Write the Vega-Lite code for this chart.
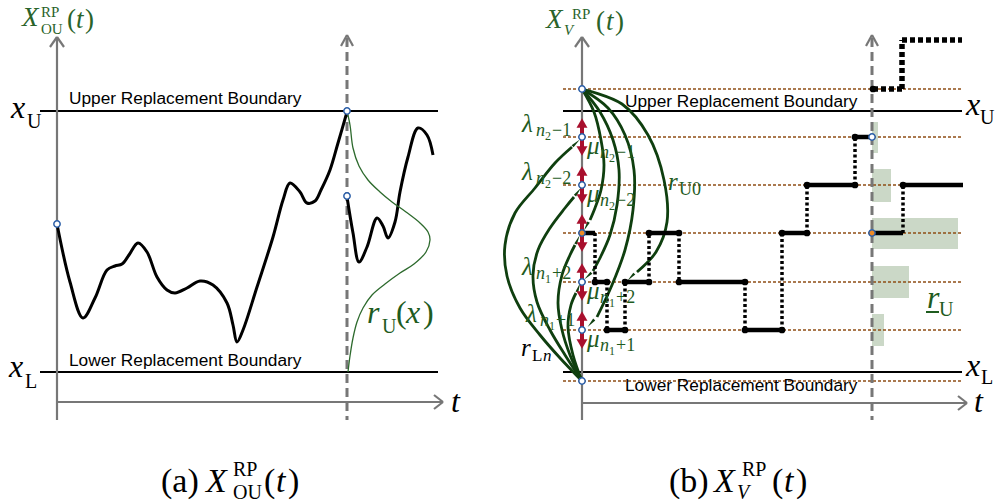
{
"$schema":"https://vega.github.io/schema/vega-lite/v6.json",
"width":998,"height":503,
"autosize":{"type":"fit","contains":"padding"},
"padding":0,
"background":"#ffffff",
"config":{"view":{"stroke":null}},
"encoding":{
 "x":{"field":"x","type":"quantitative","scale":{"domain":[0,998],"nice":false,"zero":false},"axis":null},
 "y":{"field":"y","type":"quantitative","scale":{"domain":[0,503],"nice":false,"zero":false,"reverse":true},"axis":null}
},
"layer":[
{"data":{"values":[{"x":872,"x2":878,"y":122,"y2":153},{"x":872,"x2":891,"y":169,"y2":202},{"x":872,"x2":958,"y":218,"y2":249},{"x":872,"x2":909,"y":266,"y2":298},{"x":872,"x2":884,"y":314,"y2":346}]},
 "mark":{"type":"rect","color":"#cbd8c7"},
 "encoding":{"x2":{"field":"x2"},"y2":{"field":"y2"}}},
{"data":{"values":[{"x":563,"x2":962,"y":89},{"x":563,"x2":962,"y":137},{"x":563,"x2":962,"y":185},{"x":563,"x2":962,"y":233},{"x":563,"x2":962,"y":282},{"x":563,"x2":962,"y":330},{"x":563,"x2":962,"y":381}]},
 "mark":{"type":"rule","color":"#8f4e16","strokeWidth":1.5,"strokeDash":[3,2]},
 "encoding":{"x2":{"field":"x2"}}},
{"data":{"values":[{"x":40,"x2":438,"y":111},{"x":40,"x2":438,"y":372},{"x":563,"x2":962,"y":111},{"x":563,"x2":962,"y":372}]},
 "mark":{"type":"rule","color":"#000000","strokeWidth":2},
 "encoding":{"x2":{"field":"x2"}}},
{"data":{"values":[
 {"x":57,"y":420,"x2":57,"y2":37},{"x":57,"y":402,"x2":443,"y2":402},
 {"x":50,"y":47,"x2":57,"y2":37},{"x":64,"y":47,"x2":57,"y2":37},
 {"x":434,"y":395,"x2":443,"y2":402},{"x":434,"y":409,"x2":443,"y2":402},
 {"x":582,"y":420,"x2":582,"y2":37},{"x":582,"y":403,"x2":967,"y2":403},
 {"x":575,"y":47,"x2":582,"y2":37},{"x":589,"y":47,"x2":582,"y2":37},
 {"x":958,"y":396,"x2":967,"y2":403},{"x":958,"y":410,"x2":967,"y2":403},
 {"x":341,"y":46,"x2":347,"y2":35},{"x":353,"y":46,"x2":347,"y2":35},
 {"x":866,"y":46,"x2":872,"y2":35},{"x":878,"y":46,"x2":872,"y2":35}]},
 "mark":{"type":"rule","color":"#777777","strokeWidth":2.2},
 "encoding":{"x2":{"field":"x2"},"y2":{"field":"y2"}}},
{"data":{"values":[{"x":347,"y":38,"y2":420},{"x":872,"y":38,"y2":420}]},
 "mark":{"type":"rule","color":"#777777","strokeWidth":3,"strokeDash":[9,5]},
 "encoding":{"y2":{"field":"y2"}}},
{"data":{"values":[
 {"g":"a1","i":0,"x":57,"y":224},{"g":"a1","i":1,"x":70,"y":282},{"g":"a1","i":2,"x":83,"y":318},{"g":"a1","i":3,"x":95,"y":298},{"g":"a1","i":4,"x":107,"y":270},{"g":"a1","i":5,"x":115,"y":266},{"g":"a1","i":6,"x":122,"y":264},{"g":"a1","i":7,"x":129,"y":255},{"g":"a1","i":8,"x":138,"y":243},{"g":"a1","i":9,"x":147,"y":252},{"g":"a1","i":10,"x":157,"y":277},{"g":"a1","i":11,"x":167,"y":290},{"g":"a1","i":12,"x":175,"y":293},{"g":"a1","i":13,"x":187,"y":288},{"g":"a1","i":14,"x":200,"y":281},{"g":"a1","i":15,"x":213,"y":285},{"g":"a1","i":16,"x":227,"y":303},{"g":"a1","i":17,"x":233,"y":325},{"g":"a1","i":18,"x":237,"y":342},{"g":"a1","i":19,"x":243,"y":330},{"g":"a1","i":20,"x":257,"y":287},{"g":"a1","i":21,"x":273,"y":237},{"g":"a1","i":22,"x":283,"y":200},{"g":"a1","i":23,"x":290,"y":183},{"g":"a1","i":24,"x":300,"y":192},{"g":"a1","i":25,"x":307,"y":203},{"g":"a1","i":26,"x":315,"y":201},{"g":"a1","i":27,"x":321,"y":190},{"g":"a1","i":28,"x":330,"y":170},{"g":"a1","i":29,"x":338,"y":143},{"g":"a1","i":30,"x":347,"y":112},
 {"g":"a2","i":0,"x":347,"y":197},{"g":"a2","i":1,"x":353,"y":233},{"g":"a2","i":2,"x":359,"y":262},{"g":"a2","i":3,"x":367,"y":247},{"g":"a2","i":4,"x":377,"y":218},{"g":"a2","i":5,"x":383,"y":226},{"g":"a2","i":6,"x":388,"y":238},{"g":"a2","i":7,"x":395,"y":222},{"g":"a2","i":8,"x":400,"y":192},{"g":"a2","i":9,"x":408,"y":157},{"g":"a2","i":10,"x":418,"y":128},{"g":"a2","i":11,"x":427,"y":135},{"g":"a2","i":12,"x":433,"y":155}]},
 "mark":{"type":"line","color":"#000000","strokeWidth":3,"interpolate":"catmull-rom"},
 "encoding":{"detail":{"field":"g"},"order":{"field":"i"}}},
{"data":{"values":[
 {"i":0,"x":347,"y":111},{"i":1,"x":350,"y":125},{"i":2,"x":353,"y":148},{"i":3,"x":359,"y":166},{"i":4,"x":368,"y":180},{"i":5,"x":380,"y":192},{"i":6,"x":392,"y":202},{"i":7,"x":406,"y":212},{"i":8,"x":420,"y":223},{"i":9,"x":428,"y":232},{"i":10,"x":430,"y":240},{"i":11,"x":426,"y":252},{"i":12,"x":414,"y":264},{"i":13,"x":400,"y":273},{"i":14,"x":385,"y":284},{"i":15,"x":372,"y":295},{"i":16,"x":363,"y":308},{"i":17,"x":357,"y":322},{"i":18,"x":353,"y":338},{"i":19,"x":350,"y":356},{"i":20,"x":348,"y":372}]},
 "mark":{"type":"line","color":"#2d6a2d","strokeWidth":1.3,"interpolate":"catmull-rom"},
 "encoding":{"order":{"field":"i"}}},
{"data":{"values":[
 {"g":"L1","i":0,"x":582,"y":381},{"g":"L1","i":1,"x":560,"y":358},{"g":"L1","i":2,"x":540,"y":335},{"g":"L1","i":3,"x":520,"y":308},{"g":"L1","i":4,"x":507,"y":276},{"g":"L1","i":5,"x":505,"y":245},{"g":"L1","i":6,"x":515,"y":213},{"g":"L1","i":7,"x":535,"y":188},{"g":"L1","i":8,"x":555,"y":163},{"g":"L1","i":9,"x":572,"y":147},
 {"g":"L2","i":0,"x":582,"y":381},{"g":"L2","i":1,"x":565,"y":355},{"g":"L2","i":2,"x":550,"y":330},{"g":"L2","i":3,"x":537,"y":302},{"g":"L2","i":4,"x":533,"y":275},{"g":"L2","i":5,"x":538,"y":250},{"g":"L2","i":6,"x":550,"y":228},{"g":"L2","i":7,"x":565,"y":208},{"g":"L2","i":8,"x":574,"y":197},
 {"g":"L3","i":0,"x":582,"y":381},{"g":"L3","i":1,"x":570,"y":355},{"g":"L3","i":2,"x":562,"y":330},{"g":"L3","i":3,"x":558,"y":303},{"g":"L3","i":4,"x":562,"y":275},{"g":"L3","i":5,"x":570,"y":255},{"g":"L3","i":6,"x":575,"y":245},
 {"g":"L4","i":0,"x":582,"y":381},{"g":"L4","i":1,"x":573,"y":355},{"g":"L4","i":2,"x":568,"y":327},{"g":"L4","i":3,"x":571,"y":305},{"g":"L4","i":4,"x":576,"y":293},
 {"g":"U1","i":0,"x":582,"y":89},{"g":"U1","i":1,"x":594,"y":112},{"g":"U1","i":2,"x":601,"y":140},{"g":"U1","i":3,"x":604,"y":165},{"g":"U1","i":4,"x":601,"y":190},{"g":"U1","i":5,"x":595,"y":208},{"g":"U1","i":6,"x":590,"y":220},
 {"g":"U2","i":0,"x":582,"y":89},{"g":"U2","i":1,"x":600,"y":112},{"g":"U2","i":2,"x":613,"y":140},{"g":"U2","i":3,"x":619,"y":170},{"g":"U2","i":4,"x":617,"y":205},{"g":"U2","i":5,"x":610,"y":235},{"g":"U2","i":6,"x":600,"y":258},{"g":"U2","i":7,"x":593,"y":271},
 {"g":"U3","i":0,"x":582,"y":89},{"g":"U3","i":1,"x":608,"y":108},{"g":"U3","i":2,"x":625,"y":135},{"g":"U3","i":3,"x":634,"y":170},{"g":"U3","i":4,"x":633,"y":210},{"g":"U3","i":5,"x":625,"y":250},{"g":"U3","i":6,"x":612,"y":285},{"g":"U3","i":7,"x":597,"y":317},
 {"g":"U4","i":0,"x":582,"y":89},{"g":"U4","i":1,"x":622,"y":104},{"g":"U4","i":2,"x":648,"y":135},{"g":"U4","i":3,"x":664,"y":180},{"g":"U4","i":4,"x":667,"y":222},{"g":"U4","i":5,"x":656,"y":252},{"g":"U4","i":6,"x":637,"y":272}]},
 "mark":{"type":"line","color":"#0f3f0f","strokeWidth":2.8,"interpolate":"catmull-rom"},
 "encoding":{"detail":{"field":"g"},"order":{"field":"i"}}},
{"data":{"values":[
 {"x":575,"y":144,"a":47},{"x":577,"y":193,"a":38},{"x":577,"y":241,"a":25},{"x":578,"y":289,"a":20},
 {"x":587,"y":225,"a":208},{"x":589,"y":275,"a":227},{"x":592,"y":322,"a":222},{"x":632,"y":276,"a":224}]},
 "mark":{"type":"point","shape":"wedge","filled":true,"color":"#0f3f0f","size":130,"opacity":1},
 "encoding":{"angle":{"field":"a","type":"quantitative","scale":null}}},
{"data":{"values":[
 {"x":582,"x2":595,"y":233},{"x":595,"x2":607,"y":282},{"x":607,"x2":625,"y":330},{"x":625,"x2":649,"y":282},{"x":649,"x2":679,"y":233},{"x":679,"x2":745,"y":282},{"x":745,"x2":782,"y":330},{"x":782,"x2":807,"y":233},{"x":807,"x2":855,"y":185},{"x":855,"x2":872,"y":137},{"x":872,"x2":903,"y":233},{"x":903,"x2":963,"y":185}]},
 "mark":{"type":"rule","color":"#000000","strokeWidth":4.5},
 "encoding":{"x2":{"field":"x2"}}},
{"data":{"values":[
 {"x":595,"y":233,"y2":282},{"x":607,"y":282,"y2":330},{"x":625,"y":330,"y2":282},{"x":649,"y":282,"y2":233},{"x":679,"y":233,"y2":282},{"x":745,"y":282,"y2":330},{"x":782,"y":330,"y2":233},{"x":807,"y":233,"y2":185},{"x":855,"y":185,"y2":137},{"x":903,"y":233,"y2":185}]},
 "mark":{"type":"rule","color":"#000000","strokeWidth":3.5,"strokeDash":[3,2.5]},
 "encoding":{"y2":{"field":"y2"}}},
{"data":{"values":[{"x":873,"y":89,"x2":902,"y2":89},{"x":902,"y":89,"x2":902,"y2":40},{"x":902,"y":40,"x2":962,"y2":40}]},
 "mark":{"type":"rule","color":"#000000","strokeWidth":5.5,"strokeDash":[5,3]},
 "encoding":{"x2":{"field":"x2"},"y2":{"field":"y2"}}},
{"data":{"values":[
 {"x":595,"y":282},{"x":607,"y":282},{"x":607,"y":330},{"x":625,"y":330},{"x":625,"y":282},{"x":649,"y":282},{"x":649,"y":233},{"x":679,"y":233},{"x":679,"y":282},{"x":745,"y":282},{"x":745,"y":330},{"x":782,"y":330},{"x":782,"y":233},{"x":807,"y":233},{"x":807,"y":185},{"x":855,"y":185},{"x":855,"y":137},{"x":903,"y":185},{"x":873,"y":89}]},
 "mark":{"type":"point","shape":"circle","filled":true,"color":"#000000","size":45,"opacity":1}},
{"data":{"values":[{"x":582,"y":123,"y2":151},{"x":582,"y":171,"y2":199},{"x":582,"y":219,"y2":247},{"x":582,"y":268,"y2":296},{"x":582,"y":316,"y2":344}]},
 "mark":{"type":"rule","color":"#a80f2d","strokeWidth":4},
 "encoding":{"y2":{"field":"y2"}}},
{"data":{"values":[{"x":582,"y":123},{"x":582,"y":171},{"x":582,"y":219},{"x":582,"y":268},{"x":582,"y":316}]},
 "mark":{"type":"point","shape":"triangle-up","filled":true,"color":"#a80f2d","size":120,"opacity":1}},
{"data":{"values":[{"x":582,"y":151},{"x":582,"y":199},{"x":582,"y":247},{"x":582,"y":296},{"x":582,"y":344}]},
 "mark":{"type":"point","shape":"triangle-down","filled":true,"color":"#a80f2d","size":120,"opacity":1}},
{"data":{"values":[{"x":57,"y":224},{"x":347,"y":111},{"x":347,"y":196},{"x":582,"y":89},{"x":582,"y":137},{"x":582,"y":185},{"x":582,"y":282},{"x":582,"y":330},{"x":582,"y":381},{"x":872,"y":137}]},
 "mark":{"type":"point","shape":"circle","filled":true,"fill":"#ffffff","stroke":"#2b5ea7","strokeWidth":1.5,"size":40,"opacity":1}},
{"data":{"values":[{"x":582,"y":233},{"x":872,"y":233}]},
 "mark":{"type":"point","shape":"circle","filled":true,"fill":"#f08a24","stroke":"#2b5ea7","strokeWidth":1.5,"size":40,"opacity":1}},
{"data":{"values":[{"s":"Upper Replacement Boundary","x":69,"y":104},{"s":"Lower Replacement Boundary","x":69,"y":366},{"s":"Upper Replacement Boundary","x":625,"y":107},{"s":"Lower Replacement Boundary","x":625,"y":391}]},
 "mark":{"type":"text","font":"Liberation Sans","fontSize":17.3,"color":"#000000","align":"left","baseline":"alphabetic"},
 "encoding":{"text":{"field":"s"}}},
{"data":{"values":[{"s":"x","x":11,"y":118},{"s":"x","x":9,"y":377},{"s":"x","x":966,"y":115},{"s":"x","x":966,"y":376},{"s":"t","x":451,"y":412},{"s":"t","x":974,"y":412}]},
 "mark":{"type":"text","font":"Liberation Serif","fontStyle":"italic","fontSize":32,"color":"#000000","align":"left","baseline":"alphabetic"},
 "encoding":{"text":{"field":"s"}}},
{"data":{"values":[{"s":"U","x":27,"y":128},{"s":"L","x":25,"y":388},{"s":"U","x":980,"y":124},{"s":"L","x":981,"y":384}]},
 "mark":{"type":"text","font":"Liberation Serif","fontSize":20,"color":"#000000","align":"left","baseline":"alphabetic"},
 "encoding":{"text":{"field":"s"}}},
{"data":{"values":[{"s":"r","x":367,"y":323},{"s":"x","x":406,"y":323},{"s":"r","x":927,"y":308}]},
 "mark":{"type":"text","font":"Liberation Serif","fontStyle":"italic","fontSize":32,"color":"#1f5c1f","align":"left","baseline":"alphabetic"},
 "encoding":{"text":{"field":"s"}}},
{"data":{"values":[{"s":"(","x":396,"y":323},{"s":")","x":423,"y":323}]},
 "mark":{"type":"text","font":"Liberation Serif","fontSize":32,"color":"#1f5c1f","align":"left","baseline":"alphabetic"},
 "encoding":{"text":{"field":"s"}}},
{"data":{"values":[{"s":"U","x":382,"y":333},{"s":"U","x":939,"y":316}]},
 "mark":{"type":"text","font":"Liberation Serif","fontSize":20,"color":"#1f5c1f","align":"left","baseline":"alphabetic"},
 "encoding":{"text":{"field":"s"}}},
{"data":{"values":[{"x":926,"x2":939,"y":312}]},
 "mark":{"type":"rule","color":"#1f5c1f","strokeWidth":2},
 "encoding":{"x2":{"field":"x2"}}},
{"data":{"values":[{"s":"X","x":22,"y":26},{"s":"t","x":76,"y":28},{"s":"X","x":546,"y":28},{"s":"t","x":606,"y":30}]},
 "mark":{"type":"text","font":"Liberation Serif","fontStyle":"italic","fontSize":27,"color":"#2a632a","align":"left","baseline":"alphabetic"},
 "encoding":{"text":{"field":"s"}}},
{"data":{"values":[{"s":"(","x":67,"y":28},{"s":")","x":85,"y":28},{"s":"(","x":596,"y":30},{"s":")","x":615,"y":30}]},
 "mark":{"type":"text","font":"Liberation Serif","fontSize":27,"color":"#2a632a","align":"left","baseline":"alphabetic"},
 "encoding":{"text":{"field":"s"}}},
{"data":{"values":[{"s":"RP","x":41,"y":17},{"s":"OU","x":41,"y":34},{"s":"RP","x":572,"y":19}]},
 "mark":{"type":"text","font":"Liberation Serif","fontSize":15,"color":"#2a632a","align":"left","baseline":"alphabetic"},
 "encoding":{"text":{"field":"s"}}},
{"data":{"values":[{"s":"V","x":564,"y":35}]},
 "mark":{"type":"text","font":"Liberation Serif","fontStyle":"italic","fontSize":15,"color":"#2a632a","align":"left","baseline":"alphabetic"},
 "encoding":{"text":{"field":"s"}}},
{"data":{"values":[{"s":"λ","x":522,"y":132},{"s":"μ","x":587,"y":154},{"s":"λ","x":522,"y":180},{"s":"μ","x":587,"y":202},{"s":"λ","x":522,"y":275},{"s":"μ","x":587,"y":299},{"s":"λ","x":526,"y":322},{"s":"μ","x":587,"y":347},{"s":"r","x":668,"y":190}]},
 "mark":{"type":"text","font":"Liberation Serif","fontStyle":"italic","fontSize":25,"color":"#1f5c1f","align":"left","baseline":"alphabetic"},
 "encoding":{"text":{"field":"s"}}},
{"data":{"values":[{"s":"n","x":536,"y":136},{"s":"n","x":600,"y":158},{"s":"n","x":536,"y":184},{"s":"n","x":600,"y":206},{"s":"n","x":536,"y":279},{"s":"n","x":600,"y":303},{"s":"n","x":540,"y":326},{"s":"n","x":600,"y":351}]},
 "mark":{"type":"text","font":"Liberation Serif","fontStyle":"italic","fontSize":18,"color":"#1f5c1f","align":"left","baseline":"alphabetic"},
 "encoding":{"text":{"field":"s"}}},
{"data":{"values":[{"s":"2","x":545,"y":140},{"s":"2","x":609,"y":162},{"s":"2","x":545,"y":188},{"s":"2","x":609,"y":210},{"s":"1","x":545,"y":283},{"s":"1","x":609,"y":307},{"s":"1","x":549,"y":330},{"s":"1","x":609,"y":355}]},
 "mark":{"type":"text","font":"Liberation Serif","fontSize":12,"color":"#1f5c1f","align":"left","baseline":"alphabetic"},
 "encoding":{"text":{"field":"s"}}},
{"data":{"values":[{"s":"−1","x":552,"y":136},{"s":"−1","x":616,"y":158},{"s":"−2","x":552,"y":184},{"s":"−2","x":616,"y":206},{"s":"+2","x":552,"y":279},{"s":"+2","x":616,"y":303},{"s":"+1","x":556,"y":326},{"s":"+1","x":616,"y":351},{"s":"U0","x":679,"y":195}]},
 "mark":{"type":"text","font":"Liberation Serif","fontSize":18,"color":"#1f5c1f","align":"left","baseline":"alphabetic"},
 "encoding":{"text":{"field":"s"}}},
{"data":{"values":[{"s":"r","x":521,"y":356}]},
 "mark":{"type":"text","font":"Liberation Serif","fontStyle":"italic","fontSize":25,"color":"#000000","align":"left","baseline":"alphabetic"},
 "encoding":{"text":{"field":"s"}}},
{"data":{"values":[{"s":"L","x":532,"y":361}]},
 "mark":{"type":"text","font":"Liberation Serif","fontSize":17,"color":"#000000","align":"left","baseline":"alphabetic"},
 "encoding":{"text":{"field":"s"}}},
{"data":{"values":[{"s":"n","x":543,"y":361}]},
 "mark":{"type":"text","font":"Liberation Serif","fontStyle":"italic","fontSize":17,"color":"#000000","align":"left","baseline":"alphabetic"},
 "encoding":{"text":{"field":"s"}}},
{"data":{"values":[{"s":"(a)","x":161,"y":492},{"s":"(","x":264,"y":492},{"s":")","x":288,"y":492},{"s":"(b)","x":669,"y":492},{"s":"(","x":772,"y":492},{"s":")","x":796,"y":492}]},
 "mark":{"type":"text","font":"Liberation Serif","fontSize":34,"color":"#000000","align":"left","baseline":"alphabetic"},
 "encoding":{"text":{"field":"s"}}},
{"data":{"values":[{"s":"X","x":206,"y":492},{"s":"t","x":276,"y":492},{"s":"X","x":714,"y":492},{"s":"t","x":784,"y":492}]},
 "mark":{"type":"text","font":"Liberation Serif","fontStyle":"italic","fontSize":34,"color":"#000000","align":"left","baseline":"alphabetic"},
 "encoding":{"text":{"field":"s"}}},
{"data":{"values":[{"s":"RP","x":233,"y":476},{"s":"OU","x":233,"y":499},{"s":"RP","x":742,"y":476}]},
 "mark":{"type":"text","font":"Liberation Serif","fontSize":20,"color":"#000000","align":"left","baseline":"alphabetic"},
 "encoding":{"text":{"field":"s"}}},
{"data":{"values":[{"s":"V","x":737,"y":499}]},
 "mark":{"type":"text","font":"Liberation Serif","fontStyle":"italic","fontSize":20,"color":"#000000","align":"left","baseline":"alphabetic"},
 "encoding":{"text":{"field":"s"}}}
]
}
